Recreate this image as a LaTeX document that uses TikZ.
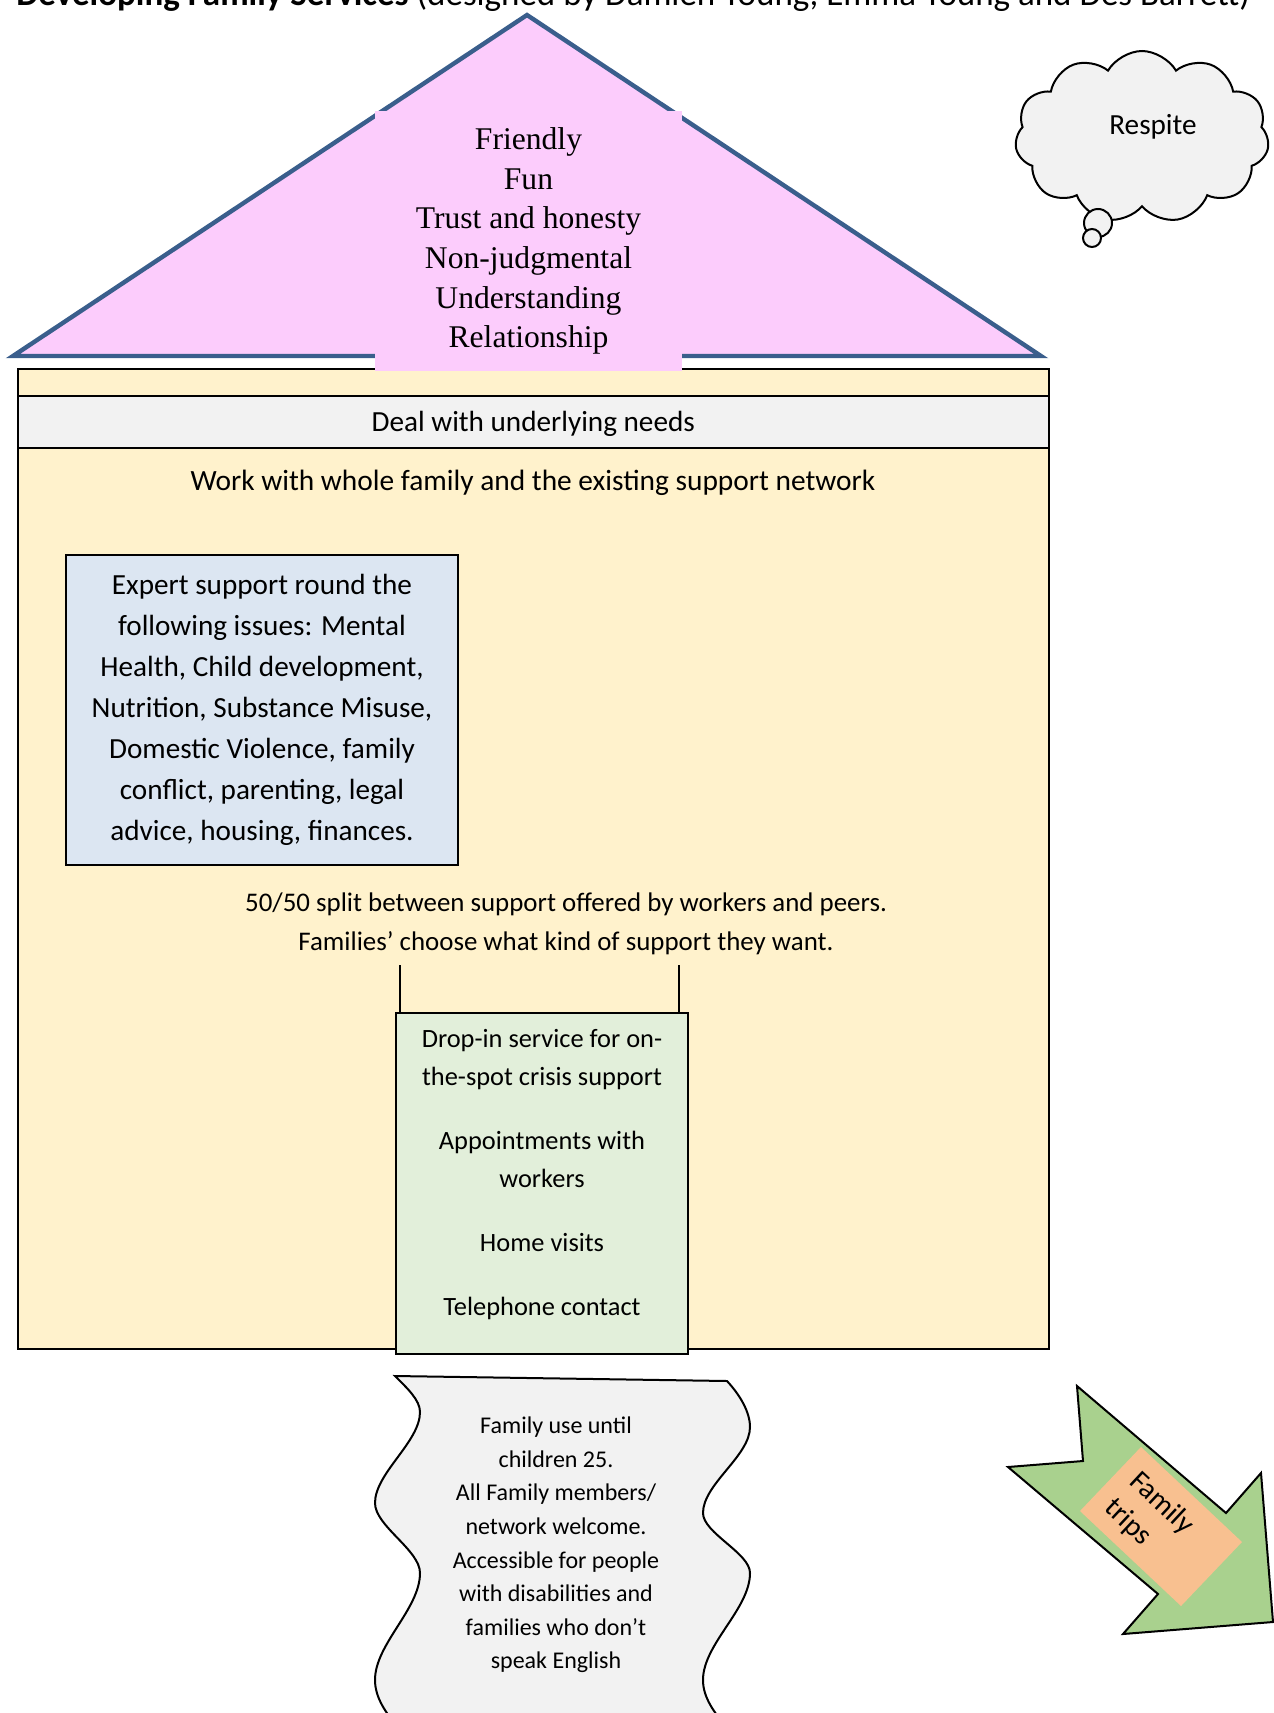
\documentclass[tikz,border=0pt]{standalone}
\usepackage{fontspec}
\setmainfont{Carlito}
\newfontfamily\roofserif{Liberation Serif}
\usetikzlibrary{shapes.symbols,calc}
\definecolor{pinkroof}{RGB}{252,204,252}
\definecolor{roofblue}{RGB}{58,94,140}
\definecolor{cream}{RGB}{255,242,204}
\definecolor{lightgrey}{RGB}{242,242,242}
\definecolor{bluebox}{RGB}{220,230,242}
\definecolor{greenbox}{RGB}{226,239,218}
\definecolor{arrowgreen}{RGB}{169,209,142}
\definecolor{orangebox}{RGB}{248,192,144}
\tikzset{
  txt/.style={inner sep=0pt, align=center, font=\fontsize{14.6}{20.5}\selectfont},
  smalltxt/.style={inner sep=0pt, align=center, font=\fontsize{12}{16.8}\selectfont},
  midtxt/.style={inner sep=0pt, align=center, font=\fontsize{13.2}{19}\selectfont},
  boxline/.style={draw=black, line width=1pt},
}
\begin{document}
\begin{tikzpicture}[x=0.5pt,y=-0.5pt]
\useasboundingbox (0,0) rectangle (1274,1713);
\clip (0,0) rectangle (1274,1713);

% title (cut at top)
\node[anchor=base west, inner sep=0pt, font=\fontsize{17.5}{20}\selectfont] (title) at (16,5)
  {\textbf{Developing Family Services} (designed by Damien Young, Emma Young and Des Barrett)};

% roof
\filldraw[fill=pinkroof, draw=roofblue, line width=2.2pt, line join=miter] (527,15) -- (1041,356) -- (13,356) -- cycle;

% house body
\node[boxline, fill=cream, minimum width=515.75pt, minimum height=490pt, inner sep=0pt] (house) at (533.25,859) {};

% pink box with values
\node[fill=pinkroof, minimum width=153.5pt, minimum height=130pt, inner sep=0pt, align=center,
      font=\roofserif\fontsize{15.8}{19.8}\selectfont] (roofbox) at (528.5,241)
  {Friendly\\Fun\\Trust and honesty\\Non-judgmental\\Understanding\\Relationship};

% underlying needs band
\node[boxline, fill=lightgrey, minimum width=515.75pt, minimum height=26.25pt, txt,
      text height=13.6pt, text depth=3.6pt] (needs) at (533.25,421.75)
  {Deal with underlying needs};

\node[txt, font=\fontsize{14.7}{20.5}\selectfont] (whole) at (533,483) {Work with whole family and the existing support network};

% expert support box
\node[boxline, fill=bluebox, minimum width=196pt, minimum height=155pt, txt] (expert) at (262,710)
  {Expert support round the\\following issues: Mental\\Health, Child development,\\Nutrition, Substance Misuse,\\Domestic Violence, family\\conflict, parenting, legal\\advice, housing, finances.};

% split text
\node[midtxt, font=\fontsize{13.45}{19.5}\selectfont] (split) at (566,923.5)
  {50/50 split between support offered by workers and peers.\\Families’ choose what kind of support they want.};

% green services box
\node[boxline, fill=greenbox, minimum width=146.25pt, minimum height=170.5pt, inner sep=0pt] (green) at (542,1183.5) {};
\node[midtxt] (services) at (542,1175)
  {Drop-in service for on-\\the-spot crisis support\\[13pt]Appointments with\\workers\\[13pt]Home visits\\[13pt]Telephone contact};

\coordinate (la) at (400,965);
\coordinate (lb) at (678.5,965);
\draw[line width=1pt] (la) -- (la |- green.north);
\draw[line width=1pt] (lb) -- (lb |- green.north);

% wave shape
\filldraw[fill=lightgrey, draw=black, line width=1pt]
  (395,1376) -- (727,1381)
  .. controls (740,1395) and (750,1412) .. (750,1427)
  .. controls (750,1456) and (703,1484) .. (703,1513)
  .. controls (703,1533) and (750,1553) .. (750,1573)
  .. controls (750,1609) and (703,1644) .. (703,1680)
  .. controls (703,1716) and (750,1740) .. (750,1770)
  -- (420,1770)
  .. controls (420,1740) and (375,1716) .. (375,1680)
  .. controls (375,1644) and (420,1609) .. (420,1573)
  .. controls (420,1550) and (375,1526) .. (375,1503)
  .. controls (375,1473) and (420,1442) .. (420,1412)
  .. controls (420,1400) and (407,1388) .. (395,1376) -- cycle;
\node[smalltxt] (welcome) at (556,1545)
  {Family use until\\children 25.\\All Family members/\\network welcome.\\Accessible for people\\with disabilities and\\families who don’t\\speak English};

% cloud
\node[cloud, cloud puffs=11, cloud puff arc=120, aspect=1.45, draw=black, line width=1pt, fill=lightgrey,
      minimum width=127pt, minimum height=86pt, inner sep=0pt] (cloud) at (1142,137) {};
\filldraw[fill=lightgrey, draw=black, line width=1pt] (1098,223) circle (7pt);
\filldraw[fill=lightgrey, draw=black, line width=1pt] (1092,238) circle (4.5pt);
\node[txt] (respite) at (1153,127) {Respite};

% arrow
\filldraw[fill=arrowgreen, draw=black, line width=1pt, line join=miter]
  (1077,1386) -- (1083,1461) -- (1008,1467) -- (1158,1594) -- (1123,1634) -- (1273,1622) -- (1261,1473) -- (1226,1513) -- cycle;
\fill[orangebox] (1141,1447) -- (1242,1542) -- (1181,1606) -- (1080,1511) -- cycle;
\node[inner sep=0pt, align=left, rotate=-43, font=\fontsize{14.6}{18.3}\selectfont] (trips) at (1149,1517) {Family\\trips};
\end{tikzpicture}
\end{document}
